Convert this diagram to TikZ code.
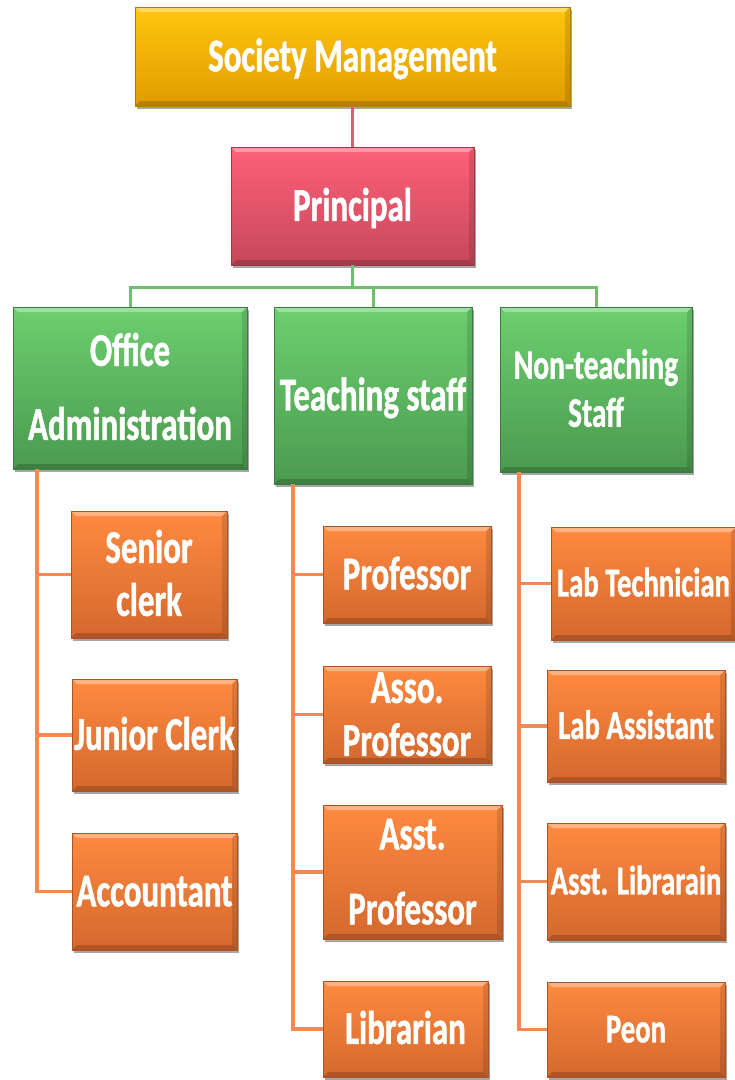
\documentclass[tikz,border=0pt]{standalone}
\usepackage{fontspec}
\newfontfamily\lblfont{Carlito}[FakeStretch=0.70,FakeBold=1]
\usetikzlibrary{shadows}
\definecolor{ytop}{HTML}{FFC60E}
\definecolor{ybot}{HTML}{E09C00}
\definecolor{ptop}{HTML}{FF6079}
\definecolor{pbot}{HTML}{C6485A}
\definecolor{gtop}{HTML}{6CCF6F}
\definecolor{gbot}{HTML}{4B9A4F}
\definecolor{otop}{HTML}{FF8A40}
\definecolor{obot}{HTML}{D4682E}
\definecolor{pline}{HTML}{DC6072}
\definecolor{gline}{HTML}{6CBF6C}
\definecolor{oline}{HTML}{EE8A55}
\tikzset{
  box/.style={rectangle, inner sep=0pt, align=center, text=white,
    font=\lblfont\bfseries\fontsize{47}{56}\selectfont,
    text depth=0pt, text height=29.7pt, line width=0.6pt,
    drop shadow={shadow xshift=2pt, shadow yshift=-3pt, opacity=0.35, fill=black},
    path picture={
      \fill[white,opacity=0.35] (path picture bounding box.north west) -- (path picture bounding box.north east)
        -- ([xshift=-5pt,yshift=-5pt]path picture bounding box.north east) -- ([xshift=5pt,yshift=-5pt]path picture bounding box.north west) -- cycle;
      \fill[black,opacity=0.18] (path picture bounding box.south west) -- (path picture bounding box.south east)
        -- ([xshift=-5pt,yshift=5pt]path picture bounding box.south east) -- ([xshift=5pt,yshift=5pt]path picture bounding box.south west) -- cycle;
      \fill[black,opacity=0.12] (path picture bounding box.north east) -- (path picture bounding box.south east)
        -- ([xshift=-5pt,yshift=5pt]path picture bounding box.south east) -- ([xshift=-5pt,yshift=-5pt]path picture bounding box.north east) -- cycle;
    }},
  ybox/.style={box, top color=ytop, bottom color=ybot, draw=ybot!80!black},
  pbox/.style={box, top color=ptop, bottom color=pbot, draw=pbot!80!black},
  gbox/.style={box, top color=gtop, bottom color=gbot, draw=gbot!80!black},
  obox/.style={box, top color=otop, bottom color=obot, draw=obot!80!black},
  sz/.style 2 args={minimum width=#1pt, minimum height=#2pt},
  lsk/.style 2 args={font=\lblfont\bfseries\fontsize{47}{#1}\selectfont, text height=#2pt},
  small/.style={font=\lblfont\bfseries\fontsize{41}{48}\selectfont, text height=25.9pt},
  pl/.style={draw=pline, line width=2.5pt},
  gl/.style={draw=gline, line width=3pt},
  ol/.style={draw=oline, line width=3.2pt},
}
\begin{document}
\begin{tikzpicture}[x=1pt,y=-1pt]
\useasboundingbox (0,0) rectangle (735,1080);
\coordinate (bus) at (0,287);
\coordinate (colA) at (37,0);
\coordinate (colB) at (293,0);
\coordinate (colC) at (519,0);

\node[ybox, sz={435}{99}] (sm) at (352.5,56.5) {Society Management};
\node[pbox, sz={243}{118}] (pr) at (352.5,206) {Principal};

\node[gbox, sz={234}{162}, lsk={74}{103.7}] (oa) at (130,388) {Office\\Administration};
\node[gbox, sz={198}{177}] (ts) at (373,395.5) {Teaching staff};
\node[gbox, sz={192}{165}, font=\lblfont\bfseries\fontsize{42}{48}\selectfont, text height=74.5pt] (nt) at (596,389.5) {Non-teaching\\Staff};

\node[obox, sz={156}{127}, lsk={53}{82.7}] (sc) at (149,574.5) {Senior\\clerk};
\node[obox, sz={165}{112}] (jc) at (154.5,735) {Junior Clerk};
\node[obox, sz={165}{117}] (acc) at (154.5,891.5) {Accountant};

\node[obox, sz={168}{97}] (prof) at (407,574.5) {Professor};
\node[obox, sz={168}{97}, lsk={53}{82.7}] (asso) at (407,714.5) {Asso.\\Professor};
\node[obox, sz={179}{134}, lsk={75}{104.7}] (asstp) at (412.5,872) {Asst.\\Professor};
\node[obox, sz={165}{96}] (lib) at (405.5,1029) {Librarian};

\node[obox, small, sz={185}{113}] (lt) at (643.5,583.5) {Lab Technician};
\node[obox, small, sz={178}{112}] (la) at (636,726) {Lab Assistant};
\node[obox, small, sz={178}{117}] (al) at (636,881.5) {Asst. Librarain};
\node[obox, small, sz={178}{95}] (peon) at (636,1029.5) {Peon};

\draw[pl] (sm.south) -- (pr.north);
\draw[gl] (pr.south) -- (pr.south |- bus);
\draw[gl] (oa.north) -- (oa.north |- bus) -- (nt.north |- bus) -- (nt.north);
\draw[gl] (ts.north) -- (ts.north |- bus);

\draw[ol] (oa.south -| colA) |- (acc.west);
\draw[ol] (sc.west -| colA) -- (sc.west);
\draw[ol] (jc.west -| colA) -- (jc.west);

\draw[ol] (ts.south -| colB) |- (lib.west);
\draw[ol] (prof.west -| colB) -- (prof.west);
\draw[ol] (asso.west -| colB) -- (asso.west);
\draw[ol] (asstp.west -| colB) -- (asstp.west);

\draw[ol] (nt.south -| colC) |- (peon.west);
\draw[ol] (lt.west -| colC) -- (lt.west);
\draw[ol] (la.west -| colC) -- (la.west);
\draw[ol] (al.west -| colC) -- (al.west);
\end{tikzpicture}
\end{document}
